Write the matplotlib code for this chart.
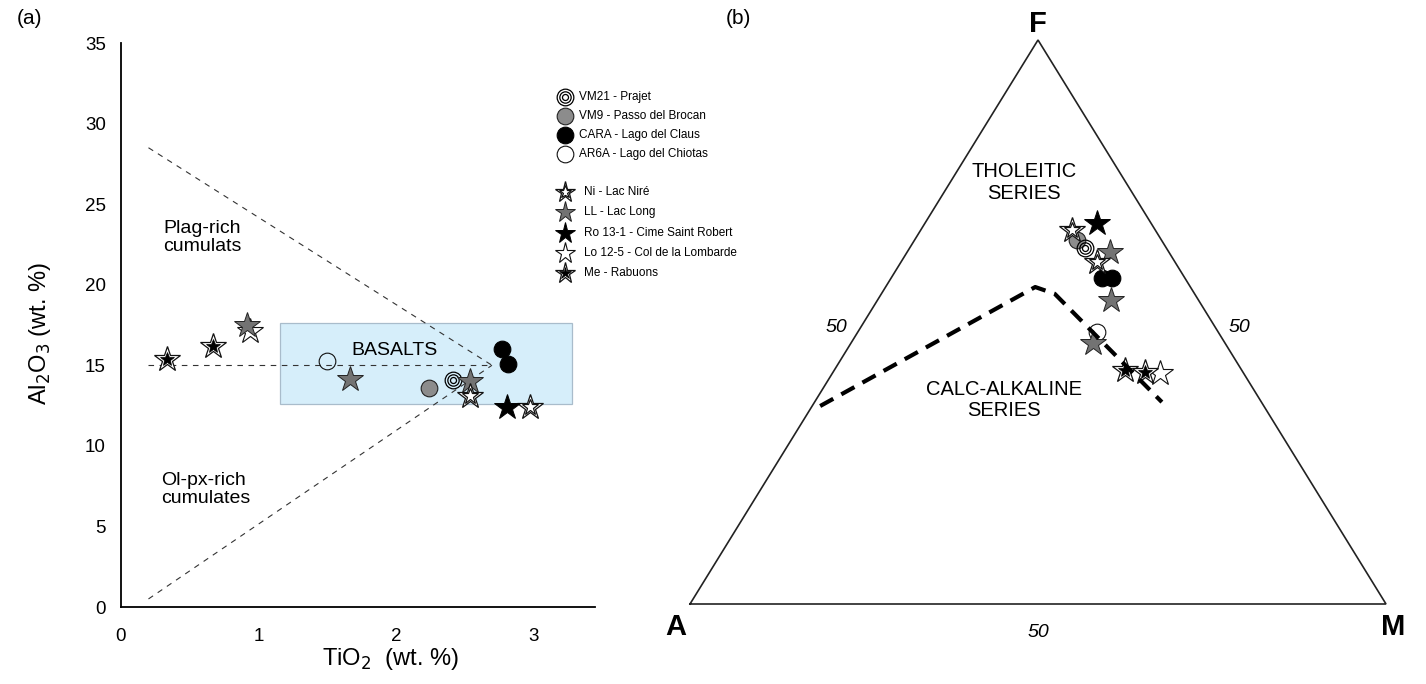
import matplotlib
matplotlib.use("Agg")
import matplotlib.pyplot as plt
from matplotlib.patches import Rectangle

plt.rcParams['font.family'] = ['Liberation Sans', 'DejaVu Sans']

# ---------------- data: (a) TiO2 vs Al2O3 ----------------
vm21_ti, vm21_al = [2.42], [14.1]
vm9_ti, vm9_al = [2.24], [13.6]
cara_ti, cara_al = [2.77, 2.82], [16.0, 15.07]
ar6a_ti, ar6a_al = [1.50], [15.26]
ni_ti, ni_al = [2.54, 2.98], [13.08, 12.39]
ll_ti, ll_al = [0.92, 1.67, 2.54], [17.5, 14.13, 14.01]
ro_ti, ro_al = [2.81], [12.39]
lo_ti, lo_al = [0.94], [17.12]
me_ti, me_al = [0.335, 0.67], [15.38, 16.19]

basalt_ti = [1.16, 3.28]
basalt_al = [12.58, 17.62]
line_upper_ti, line_upper_al = [0.2, 2.7], [28.5, 15.0]
line_mid_ti, line_mid_al = [0.2, 2.7], [15.0, 15.0]
line_lower_ti, line_lower_al = [0.2, 2.7], [0.5, 15.0]

xticks_a = [0, 1, 2, 3]
yticks_a = [0, 5, 10, 15, 20, 25, 30, 35]

# ---------------- data: (b) AFM ternary (A, F, M fractions) ----------------
vm21_afm = [(0.117, 0.631, 0.252)]
vm9_afm = [(0.121, 0.645, 0.234)]
cara_afm = [(0.119, 0.578, 0.303), (0.105, 0.578, 0.317)]
ar6a_afm = [(0.174, 0.482, 0.344)]
ni_afm = [(0.119, 0.663, 0.218), (0.112, 0.606, 0.282)]
ll_afm = [(0.085, 0.624, 0.291), (0.125, 0.539, 0.336), (0.190, 0.463, 0.347)]
ro_afm = [(0.077, 0.676, 0.247)]
lo_afm = [(0.120, 0.410, 0.470)]
me_afm = [(0.1675, 0.415, 0.4175), (0.141, 0.411, 0.448)]

boundary_afm = [(0.6375, 0.351, 0.0115), (0.223, 0.562, 0.215),
                (0.201, 0.550, 0.249), (0.143, 0.358, 0.499)]

legend_labels = ["VM21 - Prajet", "VM9 - Passo del Brocan", "CARA - Lago del Claus",
                 "AR6A - Lago del Chiotas", "Ni - Lac Niré", "LL - Lac Long",
                 "Ro 13-1 - Cime Saint Robert", "Lo 12-5 - Col de la Lombarde", "Me - Rabuons"]

# ---------------- marker styles ----------------
CS, SS = 12, 19
STY = {
    'VM21': [dict(marker='o', ms=CS, mfc='none', mec='k', mew=0.9),
             dict(marker='o', ms=CS * 0.68, mfc='none', mec='k', mew=0.9),
             dict(marker='o', ms=CS * 0.36, mfc='none', mec='k', mew=0.9)],
    'VM9': [dict(marker='o', ms=CS, mfc='#8c8c8c', mec='#222222', mew=0.8)],
    'CARA': [dict(marker='o', ms=CS, mfc='black', mec='black', mew=0.8)],
    'AR6A': [dict(marker='o', ms=CS, mfc='none', mec='#111111', mew=0.8)],
    'Ni': [dict(marker='*', ms=SS, mfc='white', mec='#111111', mew=0.9),
           dict(marker='*', ms=SS * 0.62, mfc='white', mec='#111111', mew=0.9)],
    'LL': [dict(marker='*', ms=SS, mfc='#737373', mec='#222222', mew=0.7)],
    'Ro': [dict(marker='*', ms=SS, mfc='black', mec='black', mew=0.7)],
    'Lo': [dict(marker='*', ms=SS, mfc='white', mec='#111111', mew=0.8)],
    'Me': [dict(marker='*', ms=SS, mfc='white', mec='#111111', mew=0.9),
           dict(marker='*', ms=SS * 0.56, mfc='black', mec='black', mew=0.5)],
}
ORDER = ['VM9', 'CARA', 'AR6A', 'VM21', 'Lo', 'LL', 'Ni', 'Ro', 'Me']


def draw(ax, key, xs, ys, z, **kw):
    for i, st in enumerate(STY[key]):
        ax.plot(xs, ys, linestyle='none', zorder=z + i * 0.01, clip_on=False, **st, **kw)


W, H = 1426, 684
fig = plt.figure(figsize=(W / 100, H / 100), dpi=100)

# ---------------- panel (a) ----------------
ax = fig.add_axes([121 / W, 1 - 607 / H, 474 / W, 564 / H])
ax.set_xlim(0, 3.45)
ax.set_ylim(0, 35)
for s in ['top', 'right']:
    ax.spines[s].set_visible(False)
for s in ['left', 'bottom']:
    ax.spines[s].set_linewidth(1.3)
ax.set_xticks(xticks_a)
ax.set_yticks(yticks_a)
ax.tick_params(length=0, labelsize=13.5)
ax.tick_params(axis='y', pad=11)
ax.tick_params(axis='x', pad=15)

ax.add_patch(Rectangle((basalt_ti[0], basalt_al[0]), basalt_ti[1] - basalt_ti[0],
                       basalt_al[1] - basalt_al[0], facecolor='#d6eefa',
                       edgecolor='#a9bccb', linewidth=0.9, zorder=1))
for lx, ly in [(line_upper_ti, line_upper_al), (line_mid_ti, line_mid_al),
               (line_lower_ti, line_lower_al)]:
    ax.plot(lx, ly, color='#333333', lw=0.8, dashes=(5, 5), zorder=2)

ax.text(0.306, 22.95, "Plag-rich\ncumulats", fontsize=14, ha='left', va='center',
        linespacing=1.05)
ax.text(0.29, 7.29, "Ol-px-rich\ncumulates", fontsize=14, ha='left', va='center',
        linespacing=1.05)
ax.text(1.99, 15.94, "BASALTS", fontsize=14, ha='center', va='center', zorder=3)

data_a = {'VM21': (vm21_ti, vm21_al), 'VM9': (vm9_ti, vm9_al), 'CARA': (cara_ti, cara_al),
          'AR6A': (ar6a_ti, ar6a_al), 'Ni': (ni_ti, ni_al), 'LL': (ll_ti, ll_al),
          'Ro': (ro_ti, ro_al), 'Lo': (lo_ti, lo_al), 'Me': (me_ti, me_al)}
for i, k in enumerate(ORDER):
    draw(ax, k, data_a[k][0], data_a[k][1], 4 + i * 0.1)

fig.text(390 / W, 1 - 659 / H, r"TiO$_2$  (wt. %)", fontsize=17, ha='center', va='center')
fig.text(40 / W, 1 - 333 / H, r"Al$_2$O$_3$ (wt. %)", fontsize=17, ha='center',
         va='center', rotation=90)

# ---------------- panel (b) ----------------
bx = fig.add_axes([690 / W, 1 - 604 / H, 696 / W, 564 / H])
bx.set_xlim(0, 1)
bx.set_ylim(0, 1)
bx.axis('off')


def tern(pts):
    xs = [m + f / 2 for a, f, m in pts]
    ys = [f for a, f, m in pts]
    return xs, ys


tri = [(1, 0, 0), (0, 0, 1), (0, 1, 0), (1, 0, 0)]
tx, ty = tern(tri)
bx.plot(tx, ty, color='#222222', lw=1.2, clip_on=False, zorder=1,
        solid_joinstyle='miter')

data_b = {'VM21': vm21_afm, 'VM9': vm9_afm, 'CARA': cara_afm, 'AR6A': ar6a_afm,
          'Ni': ni_afm, 'LL': ll_afm, 'Ro': ro_afm, 'Lo': lo_afm, 'Me': me_afm}
for i, k in enumerate(ORDER):
    xs, ys = tern(data_b[k])
    draw(bx, k, xs, ys, 4 + i * 0.1)

bxs, bys = tern(boundary_afm)
bx.plot(bxs, bys, color='black', lw=3.0, dashes=(3.6, 2.2), dash_capstyle='butt',
        zorder=6, clip_on=False)

bx.text(0.48, 0.748, "THOLEITIC\nSERIES", fontsize=14.5, ha='center', va='center',
        linespacing=1.2)
bx.text(0.451, 0.362, "CALC-ALKALINE\nSERIES", fontsize=14.5, ha='center', va='center',
        linespacing=1.15)
bx.text(0.211, 0.491, "50", fontsize=14, style='italic', ha='center', va='center')
bx.text(0.789, 0.491, "50", fontsize=14, style='italic', ha='center', va='center')
bx.text(0.5, -0.05, "50", fontsize=14, style='italic', ha='center', va='center')
bx.text(0.5, 1.004, "F", fontsize=21, fontweight='bold', ha='center', va='bottom')
bx.text(-0.02, -0.04, "A", fontsize=21, fontweight='bold', ha='center', va='center')
bx.text(1.01, -0.04, "M", fontsize=21, fontweight='bold', ha='center', va='center')

# ---------------- overlay: legend and panel labels ----------------
ov = fig.add_axes([0, 0, 1, 1], zorder=10)
ov.set_xlim(0, W)
ov.set_ylim(H, 0)
ov.axis('off')
ov.patch.set_alpha(0)

fig.text(30 / W, 1 - 18 / H, "(a)", fontsize=15, ha='center', va='center')
fig.text(738 / W, 1 - 18 / H, "(b)", fontsize=15, ha='center', va='center')

leg_keys = ['VM21', 'VM9', 'CARA', 'AR6A', 'Ni', 'LL', 'Ro', 'Lo', 'Me']
leg_y = [97, 116, 135, 154, 192, 212, 233, 253, 273]
for k, lab, yy in zip(leg_keys, legend_labels, leg_y):
    for st in STY[k]:
        st2 = dict(st)
        st2['ms'] = st['ms'] * (1.0 if st['marker'] == 'o' else 0.82)
        ov.plot([565], [yy], linestyle='none', clip_on=False, **st2)
    tx0 = 579 if STY[k][0]['marker'] == 'o' else 584
    ov.text(tx0, yy, lab, fontsize=8.5, ha='left', va='center')

fig.savefig("out.png", dpi=100)
